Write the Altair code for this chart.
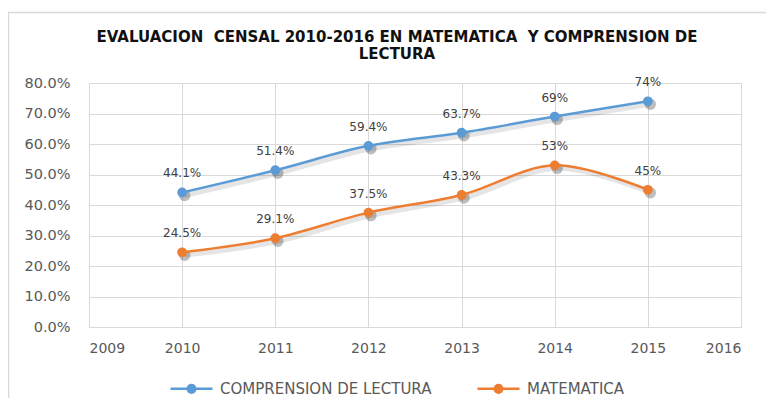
import altair as alt
import pandas as pd

# ---- data ----
years = [2010, 2011, 2012, 2013, 2014, 2015]
lectura = [44.1, 51.4, 59.4, 63.7, 69, 74]
matematica = [24.5, 29.1, 37.5, 43.3, 53, 45]
series_names = ["COMPRENSION DE LECTURA", "MATEMATICA"]
series_colors = ["#5B9BD5", "#ED7D31"]
x_ticks = [2009, 2010, 2011, 2012, 2013, 2014, 2015, 2016]
y_ticks = [0.0, 0.1, 0.2, 0.3, 0.4, 0.5, 0.6, 0.7, 0.8]
title_text = "EVALUACION\u00a0 CENSAL 2010-2016 EN MATEMATICA\u00a0 Y COMPRENSION DE\nLECTURA"

rows = []
for name, vals in zip(series_names, [lectura, matematica]):
    for yr, v in zip(years, vals):
        rows.append({"year": yr, "value": v / 100, "label": f"{v:g}%", "serie": name})
df = pd.DataFrame(rows)

GRID = "#d9d9d9"
AX_FONT = "DejaVu Sans"

x = alt.X("year:Q",
          scale=alt.Scale(domain=[2009, 2016], nice=False, zero=False),
          axis=alt.Axis(values=x_ticks, format="d", title=None, ticks=False, domain=False,
                        labelPadding=14, labelFont=AX_FONT, labelFontSize=14,
                        labelColor="#595959", grid=True, gridColor=GRID))
y = alt.Y("value:Q",
          scale=alt.Scale(domain=[0, 0.8], nice=False),
          axis=alt.Axis(values=y_ticks, format=".1%", title=None, ticks=False, domain=False,
                        labelPadding=19, labelFont=AX_FONT, labelFontSize=14.5,
                        labelColor="#595959", grid=True, gridColor=GRID))

legend_path = ("M-1,0L1,0M0.18,0A0.18,0.18 0 1 1 -0.18,0A0.18,0.18 0 1 1 0.18,0Z")
color_scale = alt.Scale(domain=series_names, range=series_colors)


def make_legend():
    return alt.Legend(title=None, orient="none", legendX=80, legendY=283,
                      direction="horizontal", symbolType=legend_path,
                      symbolSize=1764, symbolStrokeWidth=2.5, symbolOpacity=1,
                      labelFont=AX_FONT, labelFontSize=15, labelLimit=0,
                      labelColor="#595959", labelOffset=6,
                      columnPadding=40, padding=0)


base = alt.Chart(df)

border = alt.Chart(alt.Data(values=[{"a": 1}])).mark_rect(
    filled=False, stroke=GRID, strokeWidth=1.5
).encode(x=alt.value(-80.5), x2=alt.value(720), y=alt.value(-70.5), y2=alt.value(400))

title = alt.Chart(alt.Data(values=[{"a": 1}])).mark_text(
    font="DejaVu Sans", fontSize=15, fontWeight="bold", color="#111111",
    align="center", baseline="middle", lineBreak="\n", lineHeight=17
).encode(x=alt.value(308), y=alt.value(-46), text=alt.value(title_text))

shadow_line = base.mark_line(interpolate="cardinal", color="#000000", opacity=0.1,
                             strokeWidth=5, xOffset=2.5, yOffset=3).encode(
    x=x, y=y, detail="serie:N")
shadow_pts = base.mark_circle(size=130, color="#000000", opacity=0.25,
                              xOffset=2.5, yOffset=3).encode(x=x, y=y)
line = base.mark_line(interpolate="cardinal", strokeWidth=2.5).encode(
    x=x, y=y, stroke=alt.Stroke("serie:N", scale=color_scale, legend=make_legend()))
pts = base.mark_circle(size=95, opacity=1).encode(
    x=x, y=y, fill=alt.Fill("serie:N", scale=color_scale, legend=make_legend()))
labels = base.mark_text(dy=-19, fontSize=12, font=AX_FONT, color="#404040").encode(
    x=x, y=y, text="label:N")

chart = alt.layer(border, title, shadow_line, shadow_pts, line, pts, labels).properties(
    width=652, height=244,
    autosize=alt.AutoSizeParams(type="none"),
    padding={"left": 81, "top": 75, "right": 25, "bottom": 71},
).configure_view(stroke=GRID).configure(background="white")

chart.save("out.html", embed_options={"renderer": "svg", "actions": False})
